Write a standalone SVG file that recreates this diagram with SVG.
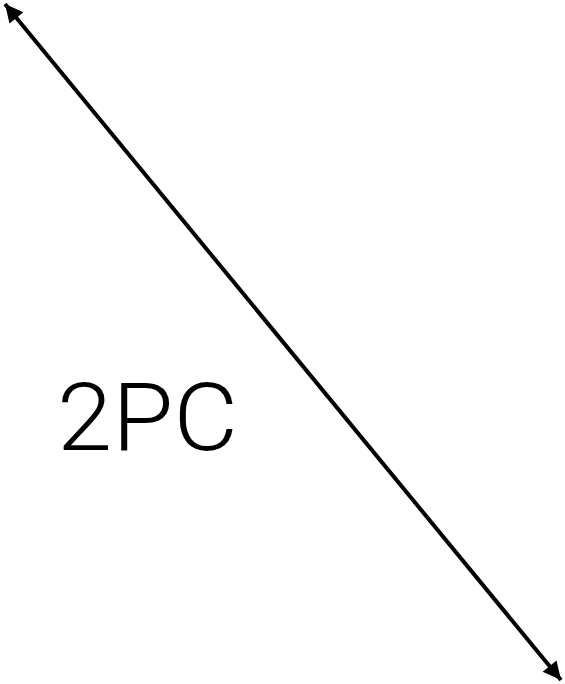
<svg xmlns="http://www.w3.org/2000/svg" width="565" height="684" viewBox="0 0 565 684">
<style>
.conn{stroke:#000;stroke-width:4;fill:none}
.lbl{font-family:Roboto,"Liberation Sans",sans-serif;font-weight:300;font-size:94px;fill:#000}
</style>
<defs>
<marker id="ah" viewBox="0 0 10 10" refX="10" refY="5" markerWidth="5.5" markerHeight="4.5" markerUnits="strokeWidth" orient="auto-start-reverse">
<path d="M0,0 L10,5 L0,10 z" fill="#000"/>
</marker>
</defs>
<rect width="565" height="684" fill="#fff"/>
<g id="connectors">
<line class="conn" x1="5" y1="4" x2="561" y2="680" marker-start="url(#ah)" marker-end="url(#ah)"/>
</g>
<g id="label-2pc">
<text class="lbl" x="57" y="450" textLength="181" lengthAdjust="spacingAndGlyphs">2PC</text>
</g>
</svg>
